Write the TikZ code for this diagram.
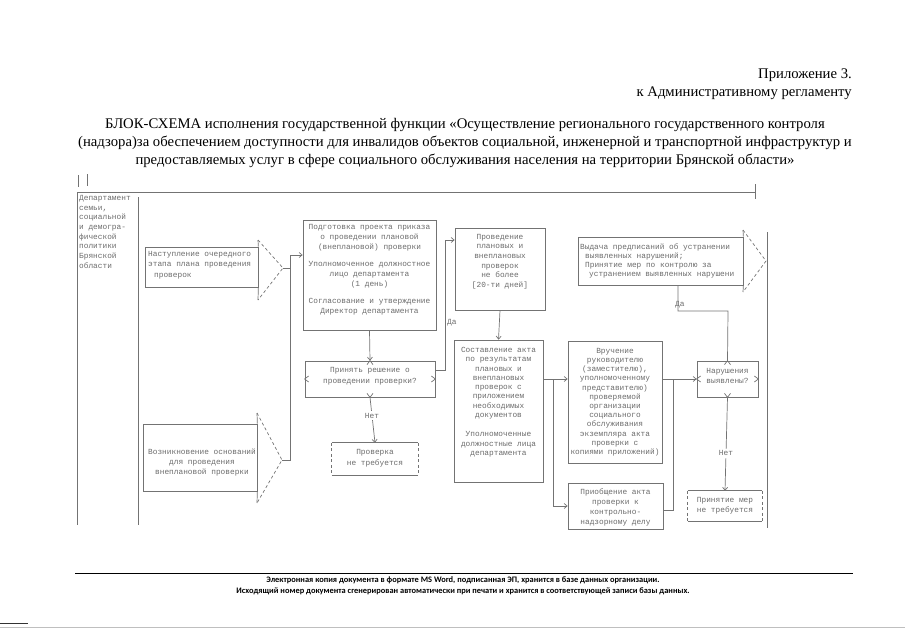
\documentclass[tikz,border=0pt]{standalone}
\usepackage{fontspec}
\setmainfont{Liberation Serif}
\newfontfamily\monof{Liberation Mono}
\newfontfamily\footf{Carlito}
\usetikzlibrary{arrows.meta,calc}
\begin{document}
\begin{tikzpicture}[x=1pt,y=-1pt,
  ln/.style={draw=black!55, line width=0.7pt},
  dsh/.style={ln, dash pattern=on 3pt off 2.5pt},
  dtxt/.style={font=\monof\fontsize{7.8}{9.5}\selectfont, text=black!58, inner sep=0pt},
  box/.style={ln, rectangle, inner sep=0pt},
  nbox/.style={rectangle, inner sep=0pt},
  conn/.style={ln},
  arr/.style={ln, -{Straight Barb[length=3pt,width=5pt]}},
  ttl/.style={font=\fontsize{14.7}{18}\selectfont, inner sep=0pt},
  ftxt/.style={font=\footf\bfseries\fontsize{8.4}{9}\selectfont, inner sep=0pt},
]
\useasboundingbox (0,0) rectangle (905,640);

% header
\node[ttl, anchor=east] (app1) at (852,75) {Приложение 3.};
\node[ttl, anchor=east] (app2) at (852,93) {к Административному регламенту};
\node[ttl, align=center] (title) at (465,143) {БЛОК-СХЕМА исполнения государственной функции «Осуществление регионального государственного контроля\\(надзора)за обеспечением доступности для инвалидов объектов социальной, инженерной и транспортной инфраструктур и\\предоставляемых услуг в сфере социального обслуживания населения на территории Брянской области»};

% lane frame
\draw[ln] (78,175) -- (78,187);
\draw[ln] (87,174) -- (87,186);
\draw[ln] (77,192) -- (755,192);
\draw[ln] (755,184) -- (755,199);
\draw[ln] (77,192) -- (77,525);
\draw[ln] (138,197) -- (138,525);
\draw[ln] (767,232) -- (767,528);
\node[dtxt, align=left, anchor=north west, font=\monof\fontsize{7.8}{9.7}\selectfont] (lane) at (79,195) {Департамент\\семьи,\\социальной\\и демогра-\\фической\\политики\\Брянской\\области};

% box 1 (arrow)
\node[box, minimum width=113pt, minimum height=40pt] (b1) at (201.5,267) {};
\node[dtxt, align=left, anchor=north west, font=\monof\fontsize{7.8}{10.5}\selectfont] (b1t) at (148,251) {Наступление очередного\\этапа плана проведения\\\hspace*{6pt}проверок};
\coordinate (t1) at (283,268);
\draw[ln] (258,240) -- (b1.north east);
\draw[ln] (b1.south east) -- (258,300);
\draw[dsh] (258,240) -- (t1) -- (258,300);

% box 9 (arrow)
\node[box, minimum width=114pt, minimum height=67pt] (b9) at (200,457.5) {};
\node[dtxt, align=center, font=\monof\fontsize{7.8}{10}\selectfont] (b9t) at (202,463) {Возникновение оснований\\для проведения\\внеплановой проверки};
\coordinate (t2) at (282,460);
\draw[ln] (257,413) -- (b9.north east);
\draw[ln] (b9.south east) -- (257,503);
\draw[dsh] (257,413) -- (t2) -- (257,503);

% box 2
\node[box, minimum width=133pt, minimum height=110pt] (b2) at (369.5,275) {};
\node[dtxt, align=center, anchor=north, font=\monof\fontsize{7.8}{10}\selectfont] (b2t) at (369.5,224) {Подготовка проекта приказа\\о проведении плановой\\(внеплановой) проверки\\[7pt]Уполномоченное должностное\\лицо департамента\\(1 день)};
\node[dtxt, align=center, anchor=north, font=\monof\fontsize{7.8}{10}\selectfont] (b2u) at (369.5,298) {Согласование и утверждение\\Директор департамента};

% merge into box 2
\coordinate (j1) at (290,255);
\draw[conn] (t1) -| (j1);
\draw[conn] (t2) -| (j1);
\draw[arr] (j1) -- (b2.west |- j1);

% decision 1
\node[box, minimum width=130pt, minimum height=36pt] (d1) at (370,379) {};
\node[dtxt, align=center, font=\monof\fontsize{7.8}{10.5}\selectfont] (d1t) at (370,376) {Принять решение о\\проведении проверки?};
\draw[arr] (b2.south) -- (d1.north);

% no-check box 1
\node[nbox, minimum width=86pt, minimum height=32pt] (nb1) at (375,459) {};
\draw[ln] (nb1.north west) -- (nb1.north east);
\draw[ln] (nb1.south west) -- (nb1.south east);
\draw[dsh] (nb1.north west) -- (nb1.south west);
\draw[dsh] (nb1.north east) -- (nb1.south east);
\node[dtxt, align=center, font=\monof\fontsize{7.8}{11}\selectfont] (nb1t) at (375,458) {Проверка\\не требуется};
\draw[arr] (d1.south) -- node[dtxt, fill=white, inner sep=1.5pt, pos=0.4] (no1) {Нет} (nb1.north);

% box 4
\node[box, minimum width=90pt, minimum height=82pt] (b4) at (500,269) {};
\node[dtxt, align=center, anchor=north, font=\monof\fontsize{7.8}{9.6}\selectfont] (b4t) at (500,234) {Проведение\\плановых и\\внеплановых\\проверок\\не более\\{[20-ти дней]}};

% yes from decision 1
\coordinate (k3) at (445,370);
\coordinate (k4) at (445,240);
\draw[arr] (d1.east |- k3) -- (k3) -- (k4) -- (b4.west |- k4);
\node[dtxt, anchor=west] (yes1) at (447,323) {Да};

% box 5
\node[box, minimum width=89pt, minimum height=142pt] (b5) at (498.5,411) {};
\node[dtxt, align=center, anchor=north, font=\monof\fontsize{7.8}{9.3}\selectfont] (b5t) at (498.5,347) {Составление акта\\по результатам\\плановых и\\внеплановых\\проверок с\\приложением\\необходимых\\документов\\[10pt]Уполномоченные\\должностные лица\\департамента};
\draw[arr] (b4.south) -- (b5.north);

% box 6
\node[box, minimum width=94pt, minimum height=122pt] (b6) at (615,402) {};
\node[dtxt, align=center, anchor=north, font=\monof\fontsize{7.8}{9.2}\selectfont] (b6t) at (615,348) {Вручение\\руководителю\\(заместителю),\\уполномоченному\\представителю)\\проверяемой\\организации\\социального\\обслуживания\\экземпляра акта\\проверки с\\копиями приложений)};

% box 7
\node[box, minimum width=95pt, minimum height=46pt] (b7) at (615.5,506) {};
\node[dtxt, align=center, anchor=north, font=\monof\fontsize{7.8}{9.7}\selectfont] (b7t) at (615.5,489) {Приобщение акта\\проверки к\\контрольно-\\надзорному делу};

\coordinate (j2) at (553,379);
\draw[arr] (b5.east |- j2) -- (b6.west |- j2);
\draw[arr] (j2) |- (b7.west);

% decision 2
\node[box, minimum width=61pt, minimum height=36pt] (d2) at (727.5,379) {};
\node[dtxt, align=center, font=\monof\fontsize{7.8}{9.5}\selectfont] (d2t) at (727.5,376) {Нарушения\\выявлены?};
\coordinate (j3) at (673,379);
\draw[arr] (b6.east |- j3) -- (d2.west);
\draw[conn] ($(b7.east)+(0,4)$) -| (j3);

% no-measures box 2
\node[nbox, minimum width=74pt, minimum height=30pt] (nb2) at (725,506) {};
\draw[ln] (nb2.north west) -- (nb2.north east);
\draw[ln] (nb2.south west) -- (nb2.south east);
\draw[dsh] (nb2.north west) -- (nb2.south west);
\draw[dsh] (nb2.north east) -- (nb2.south east);
\node[dtxt, align=center, font=\monof\fontsize{7.8}{10}\selectfont] (nb2t) at (725,506) {Принятие мер\\не требуется};
\draw[arr] (d2.south) -- node[dtxt, fill=white, inner sep=1.5pt, pos=0.6] (no2) {Нет} (nb2.north);

% box 8 (arrow)
\node[box, minimum width=165pt, minimum height=48pt] (b8) at (660.5,261) {};
\node[dtxt, align=left, anchor=north west, font=\monof\fontsize{7.8}{9}\selectfont] (b8t) at (580,244) {Выдача предписаний об устранении\\\hspace*{5pt}выявленных нарушений;\\\hspace*{5pt}Принятие мер по контролю за\\\hspace*{9pt}устранением выявленных нарушени};
\coordinate (t8) at (766,261);
\draw[ln] (743,230) -- (b8.north east);
\draw[ln] (b8.south east) -- (743,292);
\draw[dsh] (743,230) -- (t8) -- (743,292);

% yes from decision 2
\coordinate (k1) at (728,311);
\coordinate (k2) at (678,311);
\draw[conn] (d2.north) -- (k1) -- (k2) -- (k2 |- b8.south);
\node[dtxt, anchor=south west] (yes2) at (675,308) {Да};

% diamond corner marks
\foreach \d in {d1,d2}{
  \draw[ln] ($(\d.north)+(-3,4)$) -- (\d.north) -- ($(\d.north)+(3,4)$);
  \draw[ln] ($(\d.south)+(-3,-4)$) -- (\d.south) -- ($(\d.south)+(3,-4)$);
  \draw[ln] ($(\d.west)+(4,-3)$) -- (\d.west) -- ($(\d.west)+(4,3)$);
  \draw[ln] ($(\d.east)+(-4,-3)$) -- (\d.east) -- ($(\d.east)+(-4,3)$);
}

% footer
\draw[black, line width=1pt] (75,573) -- (853,573);
\node[ftxt] (f1) at (463,580) {Электронная копия документа в формате MS Word, подписанная ЭП, хранится в базе данных организации.};
\node[ftxt] (f2) at (463,591) {Исходящий номер документа сгенерирован автоматически при печати и хранится в соответствующей записи базы данных.};
\draw[black!25, line width=0.8pt] (0,627) -- (905,627);
\draw[black!80, line width=1pt] (0,623) -- (28,623);
\end{tikzpicture}
\end{document}
